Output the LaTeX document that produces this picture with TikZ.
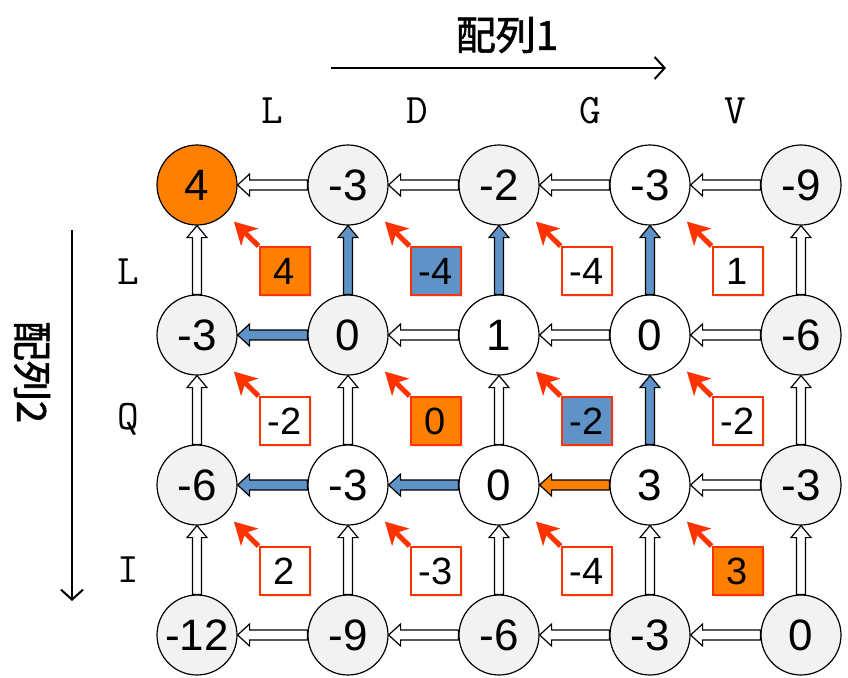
\documentclass[tikz,border=0pt]{standalone}
\usepackage{fontspec}
\setmainfont{Liberation Sans}
\newfontfamily\cjkfont[AutoFakeBold=1.5]{Noto Sans CJK JP}
\usetikzlibrary{calc,arrows.meta,shadows}

\definecolor{cellgray}{HTML}{F2F2F2}
\definecolor{pathorange}{HTML}{FF7F00}
\definecolor{pathblue}{HTML}{5F92C6}
\definecolor{scorered}{HTML}{FF3300}

\tikzset{
	cell/.style={circle, draw, line width=1.2pt, minimum size=80pt, inner sep=0pt, font=\fontsize{44}{44}\selectfont},
	score/.style={draw=scorered, line width=2pt, minimum width=50pt, minimum height=48pt, inner sep=0pt, font=\fontsize{38}{38}\selectfont, drop shadow={opacity=0.2, shadow xshift=2pt, shadow yshift=-2pt}},
	diag/.style={draw=scorered, line width=5pt, -{Stealth[length=22pt,width=24pt,inset=6pt]}},
	blk/.style={draw=black, line width=1.2pt},
	seq/.style={font=\ttfamily\fontsize{42}{42}\selectfont},
	axislbl/.style={font=\cjkfont\bfseries\fontsize{40}{40}\selectfont},
	axis/.style={line width=2pt, -{Straight Barb[length=10pt,width=22pt]}},
}

% block arrow, #2 = source node (right), #3 = target node (left)
\newcommand\harrow[3]{\filldraw[blk, fill=#1] (#2.west) ++(0,5) -- ($(#3.east)+(12,5)$) -- ++(0,6) -- (#3.east) -- ++(12,-11) -- ++(0,6) -- ($(#2.west)+(0,-5)$) -- cycle;}
% block arrow, #2 = source node (below), #3 = target node (above)
\newcommand\varrow[3]{\filldraw[blk, fill=#1] (#2.north) ++(-4.5,0) -- ($(#3.south)+(-4.5,-12)$) -- ++(-5.5,0) -- (#3.south) -- ++(10,-12) -- ++(-5.5,0) -- ($(#2.north)+(4.5,0)$) -- cycle;}

\begin{document}
\begin{tikzpicture}[x=1pt, y=1pt]
		%%%%% START %%%%%
		\useasboundingbox (0,0) rectangle (848,-677);
		
		% score cells
		\foreach \vals [count=\r] in {{4/pathorange,-3/cellgray,-2/cellgray,-3/white,-9/cellgray},{-3/cellgray,0/cellgray,1/white,0/white,-6/cellgray},{-6/cellgray,-3/white,0/white,3/white,-3/cellgray},{-12/cellgray,-9/cellgray,-6/cellgray,-3/cellgray,0/cellgray}}
			\foreach \v/\f [count=\c] in \vals
				\node[cell, fill=\f] (n-\r-\c) at ({197+151*(\c-1)},{-185-150*(\r-1)}) {\v};
		
		% horizontal moves
		\foreach \r/\c/\f in {1/1/white,1/2/white,1/3/white,1/4/white,
				2/1/pathblue,2/2/white,2/3/white,2/4/white,
				3/1/pathblue,3/2/pathblue,3/3/pathorange,3/4/white,
				4/1/white,4/2/white,4/3/white,4/4/white}
			\pgfmathtruncatemacro{\d}{\c+1}
			\harrow{\f}{n-\r-\d}{n-\r-\c};
		
		% vertical moves
		\foreach \r/\c/\f in {1/1/white,2/1/white,3/1/white,
				1/2/pathblue,2/2/white,3/2/white,
				1/3/pathblue,2/3/white,3/3/white,
				1/4/pathblue,2/4/pathblue,3/4/white,
				1/5/white,2/5/white,3/5/white}
			\pgfmathtruncatemacro{\d}{\r+1}
			\varrow{\f}{n-\d-\c}{n-\r-\c};
		
		% diagonal scores
		\foreach \r/\c/\v/\f in {1/1/4/pathorange,1/2/-4/pathblue,1/3/-4/white,1/4/1/white,
				2/1/-2/white,2/2/0/pathorange,2/3/-2/pathblue,2/4/-2/white,
				3/1/2/white,3/2/-3/white,3/3/-4/white,3/4/3/pathorange}
		{
			\node[score, fill=\f] (b-\r-\c) at ({284.5+151*(\c-1)},{-271-150*(\r-1)}) {\v};
			\coordinate (t-\r-\c) at ($(b-\r-\c.north west)!0.4!(n-\r-\c)$);
			\draw[diag] (b-\r-\c.north west) -- (t-\r-\c);
		}
		
		% sequences
		\node[axislbl] (title1) at (507,-35) {配列1};
		\coordinate (ax1-a) at (331,-68);
		\coordinate (ax1-b) at (666,-68);
		\draw[axis] (ax1-a) -- (ax1-b);
		\node[seq] (s1-1) at (272,-111) {L};
		\node[seq] (s1-2) at (417,-111) {D};
		\node[seq] (s1-3) at (590,-111) {G};
		\node[seq] (s1-4) at (735,-111) {V};
		
		\node[axislbl, rotate=-90] (title2) at (32,-372) {配列2};
		\coordinate (ax2-a) at (72,-230);
		\coordinate (ax2-b) at (72,-601);
		\draw[axis] (ax2-a) -- (ax2-b);
		\node[seq] (s2-1) at (128,-272) {L};
		\node[seq] (s2-2) at (128,-419) {Q};
		\node[seq] (s2-3) at (128,-570) {I};
		
		%%%%% END %%%%%
	\end{tikzpicture}
\end{document}
